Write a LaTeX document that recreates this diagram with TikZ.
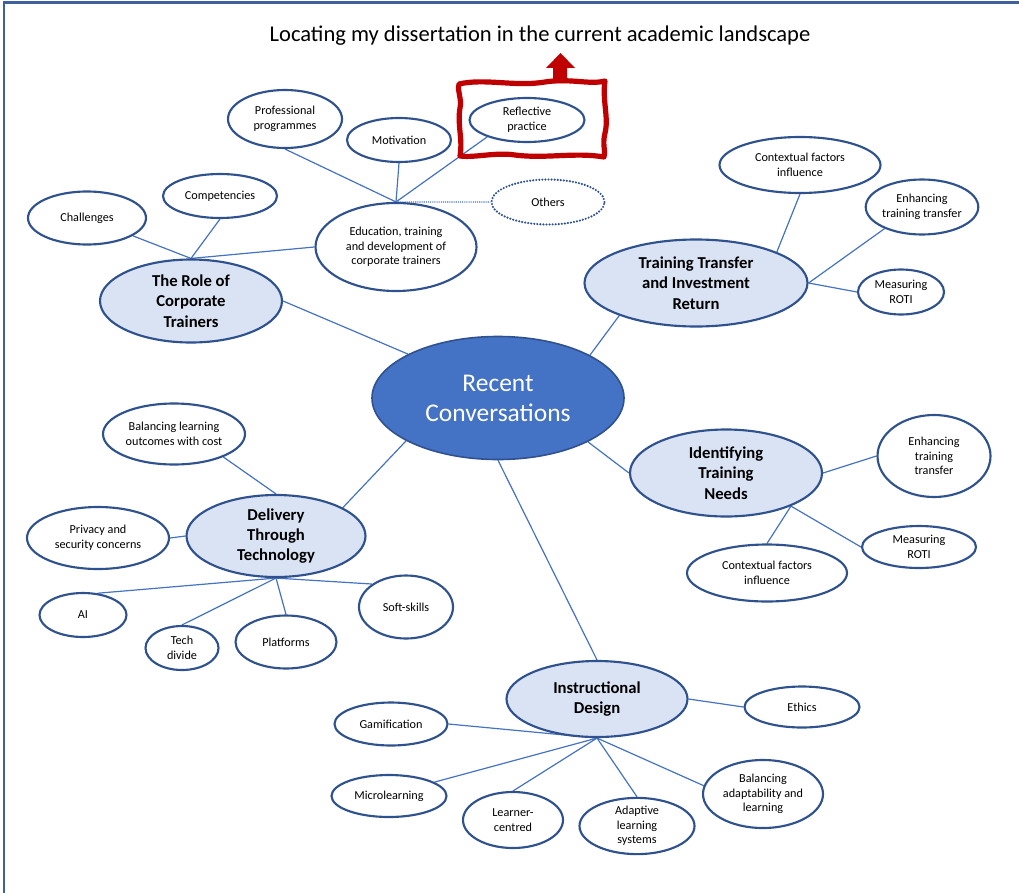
\documentclass[tikz,border=0pt]{standalone}
\usepackage{fontspec}
\setmainfont{Carlito}
\usetikzlibrary{shapes.geometric,backgrounds}

\definecolor{edgec}{HTML}{2F528F}
\definecolor{linkc}{HTML}{4472C4}
\definecolor{palec}{HTML}{DAE3F3}
\definecolor{corec}{HTML}{4472C4}
\definecolor{markc}{HTML}{C00000}
\definecolor{framec}{HTML}{3F5F9F}

\tikzset{
  sz/.style 2 args={minimum width=#1*0.75pt, minimum height=#2*0.75pt},
  bubble/.style={ellipse, draw=edgec, line width=1.6pt, fill=white, inner sep=0pt,
    align=center, font=\fontsize{9.15}{11}\selectfont},
  topic/.style={bubble, fill=palec, font=\fontsize{12.5}{15.2}\selectfont\bfseries},
  hub/.style={ellipse, draw=edgec, line width=1.2pt, fill=corec, inner sep=0pt,
    align=center, text=white, font=\fontsize{19.1}{22.5}\selectfont},
  dotbubble/.style={bubble, line width=1.8pt, line cap=round, dash pattern=on 0pt off 2.3pt},
  conn/.style={draw=linkc, line width=0.9pt},
  dotconn/.style={conn, line width=0.9pt, dash pattern=on 0.8pt off 0.8pt},
}

\begin{document}
\begin{tikzpicture}[x=0.75pt,y=-0.75pt]
\useasboundingbox (0,0) rectangle (1019,892);

% page frame (only its top and left edges fall inside the page)
\draw[framec, line width=2.2pt] (4,900) -- (4,2.5) -- (1030,2.5);

% title
\node[font=\fontsize{16.9}{20}\selectfont] (title) at (540,36)
  {Locating my dissertation in the current academic landscape};

% centre
\node[hub, sz={252}{123}] (core) at (498,398) {Recent\\Conversations};

% the role of corporate trainers
\node[topic, sz={182}{83}] (role) at (191,301) {The Role of\\Corporate\\Trainers};
\node[bubble, sz={161}{88}] (edu) at (396,247) {Education, training\\and development of\\corporate trainers};
\node[bubble, sz={118}{53}] (chal) at (87,218) {Challenges};
\node[bubble, sz={114}{44}] (comp) at (220,196) {Competencies};
\node[bubble, sz={114}{58}] (prof) at (285,119) {Professional\\programmes};
\node[bubble, sz={104}{44}] (motiv) at (399,140) {Motivation};
\node[bubble, sz={115}{44}] (refl) at (527,120) {Reflective\\practice};
\node[dotbubble, sz={113}{45}] (others) at (548,202) {Others};

% training transfer and investment return
\node[topic, sz={223}{87}] (tt) at (696,283) {Training Transfer\\and Investment\\Return};
\node[bubble, sz={161}{56}] (ctxA) at (800,165) {Contextual factors\\influence};
\node[bubble, sz={112}{55}] (enhA) at (922,207) {Enhancing\\training transfer};
\node[bubble, sz={86}{45}] (measA) at (901,292) {Measuring\\ROTI};

% identifying training needs
\node[topic, sz={192}{87}] (itn) at (726,473) {Identifying\\Training\\Needs};
\node[bubble, sz={113}{82}] (enhB) at (934,456) {Enhancing\\training\\transfer};
\node[bubble, sz={114}{42}] (measB) at (919,547) {Measuring\\ROTI};
\node[bubble, sz={160}{57}] (ctxB) at (767,573) {Contextual factors\\influence};

% delivery through technology
\node[topic, sz={179}{82}] (dtt) at (276,536) {Delivery\\Through\\Technology};
\node[bubble, sz={142}{61}] (balA) at (174,434) {Balancing learning\\outcomes with cost};
\node[bubble, sz={142}{62}] (priv) at (98,538) {Privacy and\\security concerns};
\node[bubble, sz={87}{44}] (ai) at (83,615) {AI};
\node[bubble, sz={73}{44}] (tech) at (182,648) {Tech\\divide};
\node[bubble, sz={101}{53}] (plat) at (286,642) {Platforms};
\node[bubble, sz={94}{63}] (soft) at (406,607) {Soft-skills};

% instructional design
\node[topic, sz={181}{76}] (idn) at (597,699) {Instructional\\Design};
\node[bubble, sz={115}{41}] (eth) at (802,707) {Ethics};
\node[bubble, sz={113}{43}] (gam) at (391,724) {Gamification};
\node[bubble, sz={115}{42}] (micro) at (389,796) {Microlearning};
\node[bubble, sz={100}{56}] (learn) at (513,820) {Learner-\\centred};
\node[bubble, sz={115}{52}] (adapt) at (637,826) {Adaptive\\learning\\systems};
\node[bubble, sz={120}{68}] (balB) at (763,794) {Balancing\\adaptability and\\learning};

% connectors, kept behind the bubbles
\begin{scope}[on background layer]
  \draw[conn] (core.154.7) -- (role.east);
  \draw[conn] (core.25.5) -- (tt.203);
  \draw[conn] (core.334.5) -- (itn.west);
  \draw[conn] (core.205.5) -- (dtt.23.7);
  \draw[conn] (core.south) -- (idn.north);

  \draw[conn] (role.north) -- (chal);
  \draw[conn] (role.north) -- (comp.south);
  \draw[conn] (role.north) -- (edu.west);
  \draw[conn] (edu.north) -- (prof.south);
  \draw[conn] (edu.north) -- (motiv.south);
  \draw[conn] (edu.north) -- (refl.203);
  \draw[dotconn] (edu.north) -- (others.west);

  \draw[conn] (tt.21) -- (ctxA.south);
  \draw[conn] (tt.east) -- (enhA.210);
  \draw[conn] (tt.east) -- (measA.west);

  \draw[conn] (itn.east) -- (enhB.west);
  \draw[conn] (itn.333.4) -- (ctxB.north);
  \draw[conn] (itn.333.4) -- (measB.west);

  \draw[conn] (dtt.north) -- (balA.335.7);
  \draw[conn] (dtt.west) -- (priv.east);
  \draw[conn] (dtt.south) -- (ai.56);
  \draw[conn] (dtt.south) -- (tech.north);
  \draw[conn] (dtt.south) -- (plat.north);
  \draw[conn] (dtt.south) -- (soft.146);

  \draw[conn] (idn.east) -- (eth.west);
  \draw[conn] (idn.south) -- (gam.east);
  \draw[conn] (idn.south) -- (micro.17);
  \draw[conn] (idn.south) -- (learn.north);
  \draw[conn] (idn.south) -- (adapt.north);
  \draw[conn] (idn.south) -- (balB.172);
\end{scope}

% hand-drawn red highlight box with an upward block arrow
\draw[markc, line width=3.9pt, line join=round]
  (459,84) .. controls (485,78) and (515,87) .. (545,82)
  .. controls (570,78) and (590,85) .. (605,81)
  .. controls (602,100) and (609,118) .. (605,133)
  .. controls (602,145) and (606,152) .. (604,157)
  .. controls (575,152) and (545,159) .. (515,155)
  .. controls (495,152) and (475,158) .. (460,156)
  .. controls (463,138) and (457,125) .. (460,108)
  .. controls (462,98) and (457,92) .. cycle;
\fill[markc] (553,83) -- (553,68) -- (546,68) -- (560.5,53) -- (575,68)
  -- (567,68) -- (567,83) -- cycle;
\end{tikzpicture}
\end{document}
